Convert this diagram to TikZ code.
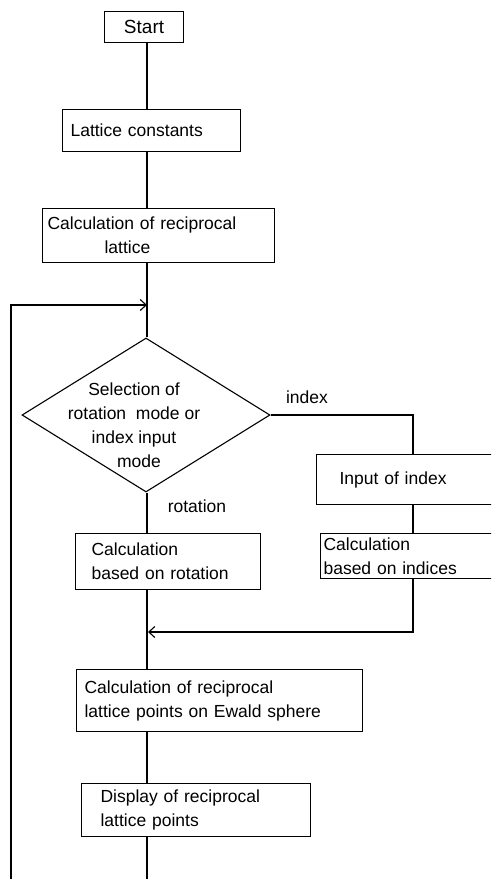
\documentclass[tikz,border=0pt]{standalone}
\usepackage{fontspec}
\setmainfont{Liberation Sans}
\usetikzlibrary{arrows.meta,shapes.geometric}
\begin{document}
\begin{tikzpicture}[x=1pt,y=-1pt,
  every node/.style={font=\fontsize{17.5}{24}\selectfont},
  box/.style={draw, line width=1.1pt, rectangle, anchor=north west, align=left, inner ysep=0pt},
  conn/.style={line width=1.1pt},
  arr/.style={conn, -{Straight Barb[length=6pt,width=11pt]}}
]
\useasboundingbox (0,0) rectangle (491,879);
\clip (0,0) rectangle (491,879);

\node[box, align=center, minimum width=79pt, minimum height=31pt, inner xsep=0pt, font=\fontsize{19}{24}\selectfont] (start) at (104,11) {Start};
\node[box, minimum width=178pt, minimum height=42pt, text width=162pt, inner xsep=8pt] (lat) at (62,109) {Lattice constants};
\node[box, minimum width=232pt, minimum height=54pt, text width=222pt, inner xsep=5pt] (rec) at (42,208) {Calculation of reciprocal\\\hspace*{57pt}lattice};
\node[draw, diamond, line width=1.1pt, minimum width=248pt, minimum height=154pt, inner sep=0pt] (dia) at (146,415) {};
\node[align=center] (diatext) at (134,425) {Selection of\\rotation\ \ mode or\\index input\\\hspace*{10pt}mode};
\node[box, minimum width=184pt, minimum height=50pt, text width=138pt, inner xsep=23pt] (inp) at (316,454) {Input of index};
\node[box, minimum width=180pt, minimum height=45pt, text width=174pt, inner xsep=3pt] (idx) at (320,533) {Calculation\\based on indices};
\node[box, minimum width=185pt, minimum height=56pt, text width=153pt, inner xsep=16pt] (rot) at (75,533) {Calculation\\based on rotation};
\node[box, minimum width=286pt, minimum height=62pt, text width=270pt, inner xsep=8pt] (ewa) at (76,669) {Calculation of reciprocal\\lattice points on Ewald sphere};
\node[box, minimum width=229pt, minimum height=53pt, text width=191pt, inner xsep=19pt] (disp) at (81,783) {Display of reciprocal\\lattice points};

\node (lidx) at (307,397) {index};
\node (lrot) at (197,506) {rotation};

\coordinate (axis) at (147,0);
\coordinate (raxis) at (413,0);
\coordinate (loopx) at (11,0);
\coordinate (top) at (147,305);
\coordinate (join) at (148,632);
\coordinate (bot) at (150,879);

\draw[conn] (start.south -| axis) -- (lat.north -| axis);
\draw[conn] (lat.south -| axis) -- (rec.north -| axis);
\draw[conn] (rec.south -| axis) -- (dia.north -| axis);
\draw[arr] (bot -| loopx) -- (top -| loopx) -- (top);
\draw[conn] (dia.east) -- (dia.east -| raxis) -- (inp.north -| raxis);
\draw[conn] (inp.south -| raxis) -- (idx.north -| raxis);
\draw[arr] (idx.south -| raxis) -- (join -| raxis) -- (join);
\draw[conn] (dia.south -| axis) -- (rot.north -| axis);
\draw[conn] (rot.south -| axis) -- (ewa.north -| axis);
\draw[conn] (ewa.south -| axis) -- (disp.north -| axis);
\draw[conn] (disp.south -| axis) -- (bot -| axis);
\end{tikzpicture}
\end{document}
